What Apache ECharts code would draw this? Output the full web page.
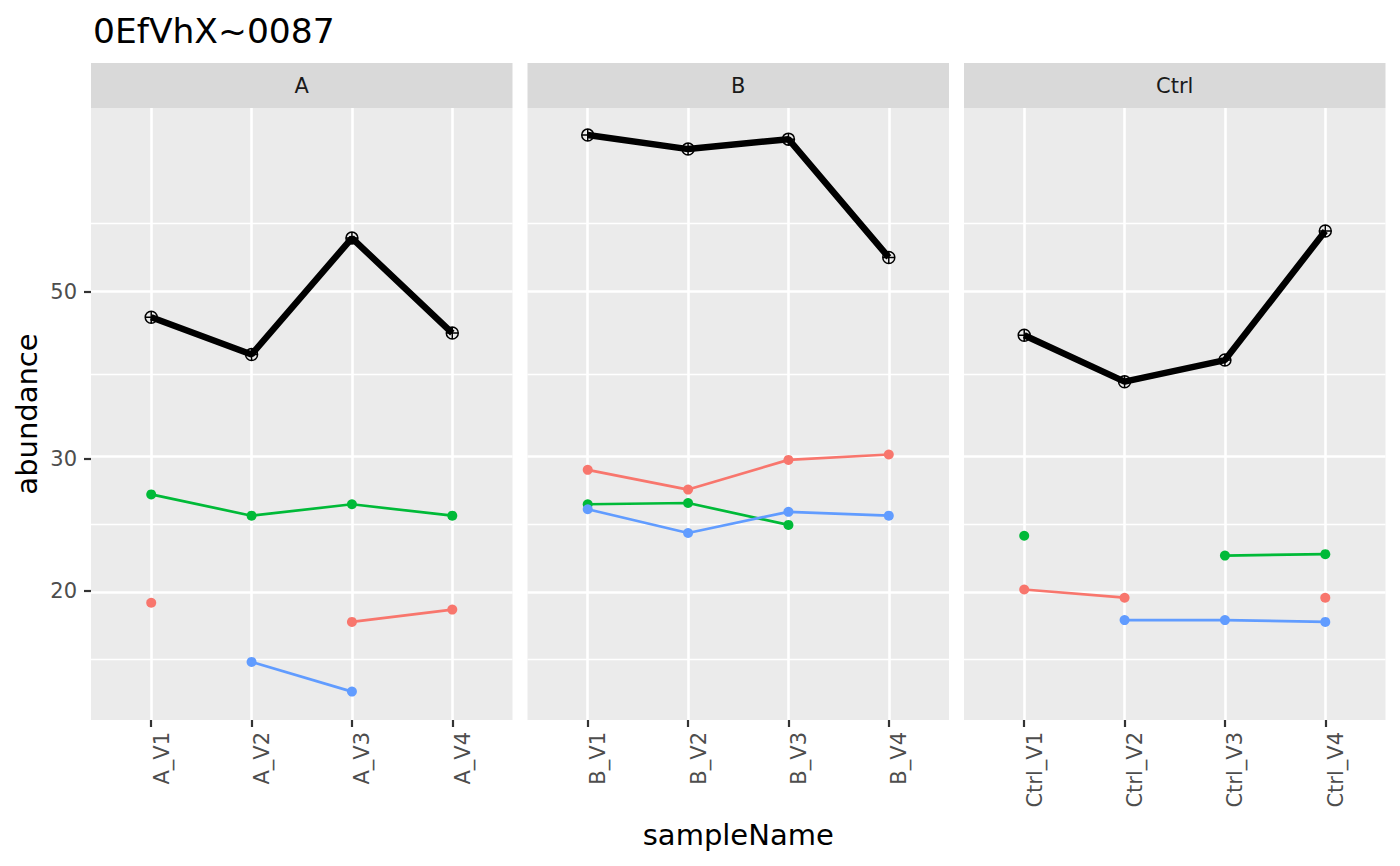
<!DOCTYPE html>
<html><head><meta charset="utf-8">
<script src="https://cdn.jsdelivr.net/npm/echarts@6/dist/echarts.min.js"></script>
<style>html,body{margin:0;padding:0;background:#fff}#c{width:1400px;height:866px}</style>
</head><body><div id="c"></div>
<script>
// ---- data ----
const titleText = '0EfVhX~0087';
const panels = ['A', 'B', 'Ctrl'];
const samplesA = ['A_V1', 'A_V2', 'A_V3', 'A_V4'];
const samplesB = ['B_V1', 'B_V2', 'B_V3', 'B_V4'];
const samplesCtrl = ['Ctrl_V1', 'Ctrl_V2', 'Ctrl_V3', 'Ctrl_V4'];

const totalA = [46.3, 41.3, 59.0, 44.1];
const totalB = [80.9, 77.5, 79.9, 55.6];
const totalCtrl = [43.8, 38.0, 40.6, 60.3];

const redA = [19.3, null, 18.2, 18.9];
const redB = [29.0, 27.3, 29.9, 30.4];
const redCtrl = [20.1, 19.6, null, 19.6];

const greenA = [26.9, 25.2, 26.1, 25.2];
const greenB = [26.1, 26.2, 24.5, null];
const greenCtrl = [23.7, null, 22.3, 22.4];

const blueA = [null, 16.1, 14.7, null];
const blueB = [25.7, 23.9, 25.5, 25.2];
const blueCtrl = [null, 18.3, 18.3, 18.2];

const yTicks = [20, 30, 50];
const yLabel = 'abundance';
const xLabel = 'sampleName';

// ---- layout / style ----
const FONT = 'DejaVu Sans';
const gridLefts = [91, 527.5, 964];
const gridW = 421.5, gridTop = 108, gridH = 612;
const yMin = 1.1295, yMax = 1.944;
const colors = { total: '#000000', red: '#F8766D', green: '#00BA38', blue: '#619CFF' };

const samples = [samplesA, samplesB, samplesCtrl];
const totals = [totalA, totalB, totalCtrl];
const reds = [redA, redB, redCtrl];
const greens = [greenA, greenB, greenCtrl];
const blues = [blueA, blueB, blueCtrl];

const lg = v => Math.log10(v);
const toData = arr => arr.map((v, i) => [i + 1, v == null ? null : lg(v)]);

// gridline positions in log space (ggplot-style minor breaks)
const majLog = yTicks.map(lg);
const step = majLog[1] - majLog[0];
const ext = [majLog[0] - step].concat(majLog).concat([majLog[majLog.length - 1] + step]);
const minorLog = [];
for (let i = 0; i < ext.length - 1; i++) minorLog.push((ext[i] + ext[i + 1]) / 2);

const grids = [], xAxes = [], yAxes = [], series = [], graphics = [];
panels.forEach((p, i) => {
  grids.push({ left: gridLefts[i], top: gridTop, width: gridW, height: gridH, show: true,
    backgroundColor: '#EBEBEB', borderWidth: 0, containLabel: false });
  const sm = samples[i];
  xAxes.push({
    type: 'value', gridIndex: i, min: 0.4, max: 4.6,
    axisLine: { show: false }, splitLine: { show: false },
    axisTick: { show: true, length: 7, customValues: [1, 2, 3, 4], lineStyle: { color: '#333333', width: 2.2 } },
    axisLabel: { show: true, customValues: [1, 2, 3, 4], rotate: 90, verticalAlign: 'top', align: 'right',
      margin: 12, fontSize: 21, color: '#4D4D4D', fontFamily: FONT,
      formatter: v => sm[Math.round(v) - 1] || '' },
    name: i === 1 ? xLabel : '', nameLocation: 'middle', nameGap: 100,
    nameTextStyle: { fontSize: 29, color: '#000', fontFamily: FONT }
  });
  yAxes.push({
    type: 'value', gridIndex: i, min: yMin, max: yMax,
    axisLine: { show: false }, splitLine: { show: false },
    axisTick: { show: i === 0, length: 7, customValues: majLog, lineStyle: { color: '#333333', width: 2.2 } },
    axisLabel: { show: i === 0, customValues: majLog, margin: 14, fontSize: 21, color: '#4D4D4D', fontFamily: FONT,
      formatter: v => String(Math.round(Math.pow(10, v))) },
    name: i === 0 ? yLabel : '', nameLocation: 'middle', nameGap: 50,
    nameTextStyle: { fontSize: 29, color: '#000', fontFamily: FONT }
  });

  const mlData = [];
  minorLog.forEach(v => mlData.push({ yAxis: v, lineStyle: { width: 1.3 } }));
  majLog.forEach(v => mlData.push({ yAxis: v, lineStyle: { width: 2.6 } }));
  [1, 2, 3, 4].forEach(v => mlData.push({ xAxis: v, lineStyle: { width: 2.6 } }));

  const mk = (name, arr, color, extra) => Object.assign({
    type: 'line', name, xAxisIndex: i, yAxisIndex: i, data: toData(arr),
    connectNulls: false, z: 3, silent: true, animation: false,
    symbol: 'circle', symbolSize: 10, showSymbol: true,
    lineStyle: { color, width: 2.7 }, itemStyle: { color }
  }, extra || {});

  series.push(mk('red', reds[i], colors.red, {
    markLine: { silent: true, z: 1, symbol: 'none', animation: false, label: { show: false },
      lineStyle: { color: '#FFFFFF', type: 'solid' }, emphasis: { disabled: true }, data: mlData }
  }));
  series.push(mk('green', greens[i], colors.green));
  series.push(mk('blue', blues[i], colors.blue));
  series.push(mk('total', totals[i], colors.total, {
    z: 4,
    symbol: 'path://M0,-10 A10,10 0 1,1 0,10 A10,10 0 1,1 0,-10 Z M-10,0 L10,0 M0,-10 L0,10',
    symbolSize: 12,
    lineStyle: { color: '#000', width: 6.5 },
    itemStyle: { color: 'rgba(0,0,0,0)', borderColor: '#000', borderWidth: 1.5 }
  }));

  graphics.push({ type: 'rect', silent: true, z: 1,
    shape: { x: gridLefts[i], y: 63, width: gridW, height: 45 }, style: { fill: '#D9D9D9' } });
  graphics.push({ type: 'text', silent: true, z: 2, x: gridLefts[i] + gridW / 2, y: 86,
    style: { text: p, fill: '#1A1A1A', fontSize: 21, fontFamily: FONT, align: 'center', verticalAlign: 'middle' } });
});

const chart = echarts.init(document.getElementById('c'), null, { renderer: 'svg', width: 1400, height: 866 });
chart.setOption({
  animation: false,
  backgroundColor: '#FFFFFF',
  textStyle: { fontFamily: FONT },
  title: { text: titleText, left: 88, top: 8,
    textStyle: { fontSize: 34.5, fontWeight: 'normal', color: '#000', fontFamily: FONT } },
  grid: grids, xAxis: xAxes, yAxis: yAxes, series, graphic: graphics
});
</script></body></html>
